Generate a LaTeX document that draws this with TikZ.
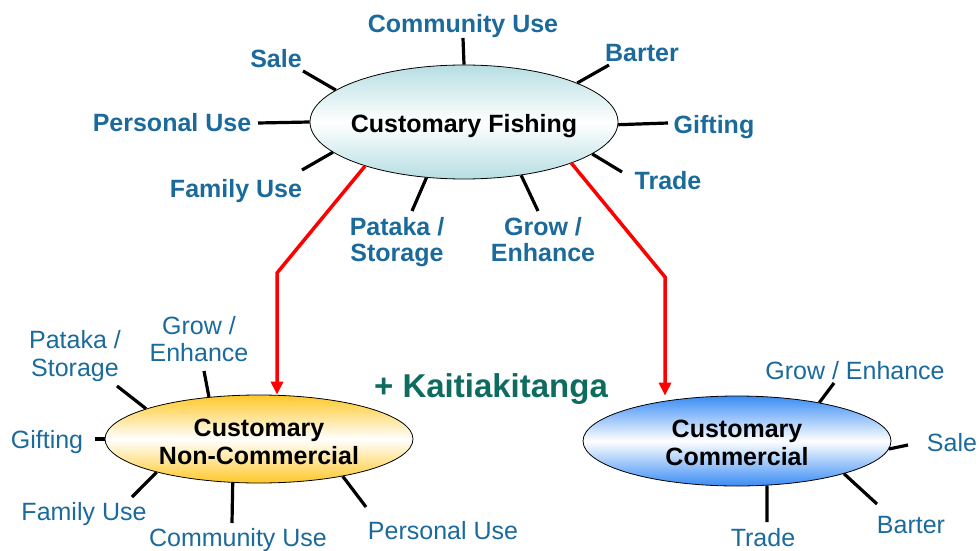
\documentclass[tikz,border=0pt]{standalone}
\usepackage{fontspec}
\setmainfont{Liberation Sans}
\usetikzlibrary{shapes.geometric,arrows.meta}
\definecolor{labelblue}{RGB}{27,106,156}
\definecolor{kaitiaki}{RGB}{14,107,96}
\definecolor{tealshade}{RGB}{182,222,226}
\definecolor{goldshade}{RGB}{255,200,40}
\definecolor{blueshade}{RGB}{58,140,245}
\definecolor{arrowred}{RGB}{255,0,0}
\tikzset{
  hub/.style={ellipse, draw=black, line width=0.8pt, inner sep=0pt,
    inner xsep=-12pt, minimum width=308pt, align=center,
    font=\fontsize{25}{27}\selectfont\bfseries},
  spoke/.style={draw=black, line width=3.2pt},
  flow/.style={draw=arrowred, line width=3.5pt,
    -{Triangle[length=13pt,width=12pt]}},
  boldlabel/.style={text=labelblue, align=center, inner sep=0pt,
    font=\fontsize{25}{26}\selectfont\bfseries},
  plainlabel/.style={text=labelblue, align=center, inner sep=0pt,
    font=\fontsize{25}{27.5}\selectfont},
}
% lower a hub's text a little without changing the hub's size
\newcommand{\hubtext}[2]{\raisebox{-#1}[\height][\depth]{#2}}
\begin{document}
\begin{tikzpicture}[x=1pt,y=-1pt]
\useasboundingbox (0,0) rectangle (979,551);

% the three hubs
\node[hub, minimum height=114pt, top color=tealshade, bottom color=tealshade,
  middle color=white] (cf) at (464,122) {\hubtext{4pt}{Customary Fishing}};
\node[hub, minimum height=88pt, top color=goldshade, bottom color=goldshade,
  middle color=white] (cnc) at (259,439) {\hubtext{3pt}{\shortstack{Customary\\[1pt]Non-Commercial}}};
\node[hub, minimum height=90pt, top color=blueshade, bottom color=blueshade,
  middle color=white] (cc) at (737,441) {\hubtext{2pt}{\shortstack{Customary\\[2pt]Commercial}}};

% labels round Customary Fishing
\node[boldlabel] (t-comm) at (463,26) {Community Use};
\node[boldlabel] (t-bart) at (642,53) {Barter};
\node[boldlabel] (t-gift) at (714,127) {Gifting};
\node[boldlabel] (t-trad) at (668,181) {Trade};
\node[boldlabel] (t-grow) at (543,240) {Grow /\\Enhance};
\node[boldlabel] (t-pata) at (397,242) {Pataka /\\Storage};
\node[boldlabel] (t-fami) at (236,191) {Family Use};
\node[boldlabel] (t-pers) at (172,123) {Personal Use};
\node[boldlabel] (t-sale) at (276,59) {Sale};

% labels round Customary Non-Commercial
\node[plainlabel] (n-pata) at (75,356) {Pataka /\\Storage};
\node[plainlabel] (n-grow) at (199,339) {Grow /\\Enhance};
\node[plainlabel] (n-gift) at (47,442) {Gifting};
\node[plainlabel] (n-fami) at (84,514) {Family Use};
\node[plainlabel] (n-comm) at (238,540) {Community Use};
\node[plainlabel] (n-pers) at (443,531) {Personal Use};

% labels round Customary Commercial
\node[plainlabel] (c-grow) at (855,371) {Grow / Enhance};
\node[plainlabel] (c-sale) at (952,443) {Sale};
\node[plainlabel] (c-bart) at (911,525) {Barter};
\node[plainlabel] (c-trad) at (763,538) {Trade};

\node[text=kaitiaki, inner sep=0pt, font=\fontsize{33}{36}\selectfont\bfseries]
  (kt) at (491,389) {+ Kaitiakitanga};

% outer ends of the spokes
\coordinate (e-comm) at (463,38);
\coordinate (e-bart) at (609,65);
\coordinate (e-gift) at (668,123);
\coordinate (e-trad) at (622,172);
\coordinate (e-grow) at (538,211);
\coordinate (e-pata) at (412,211);
\coordinate (e-fami) at (302,170);
\coordinate (e-pers) at (258,123);
\coordinate (e-sale) at (303,71);

\coordinate (m-pata) at (117,386);
\coordinate (m-grow) at (204,371);
\coordinate (m-gift) at (95,439);
\coordinate (m-fami) at (132,497);
\coordinate (m-comm) at (232,523);
\coordinate (m-pers) at (366,507);

\coordinate (k-grow) at (834,383);
\coordinate (k-sale) at (908,445);
\coordinate (k-bart) at (877,504);
\coordinate (k-trad) at (767,522);

% spokes
\draw[spoke] (cf.90) -- (e-comm);
\draw[spoke] (cf.19) -- (e-bart);
\draw[spoke] (cf.-1) -- (e-gift);
\draw[spoke] (cf.-14) -- (e-trad);
\draw[spoke] (cf.-43) -- (e-grow);
\draw[spoke] (cf.-124) -- (e-pata);
\draw[spoke] (cf.-167) -- (e-fami);
\draw[spoke] (cf.180) -- (e-pers);
\draw[spoke] (cf.166) -- (e-sale);

\draw[spoke] (cnc.165) -- (m-pata);
\draw[spoke] (cnc.140) -- (m-grow);
\draw[spoke] (cnc.180) -- (m-gift);
\draw[spoke] (cnc.-162) -- (m-fami);
\draw[spoke] (cnc.-121.5) -- (m-comm);
\draw[spoke] (cnc.-24) -- (m-pers);

\draw[spoke] (cc.25) -- (k-grow);
\draw[spoke] (cc.-3) -- (k-sale);
\draw[spoke] (cc.-17) -- (k-bart);
\draw[spoke] (cc.-56) -- (k-trad);

% red flows down to the two kinds of customary fishing
\coordinate (lbend) at (277,273);
\coordinate (rbend) at (665,277);
\draw[flow] (cf.-156) -- (lbend) -- (lbend |- cnc.north);
\draw[flow] (cf.-21) -- (rbend) -- (rbend |- cc.north);
\end{tikzpicture}
\end{document}
